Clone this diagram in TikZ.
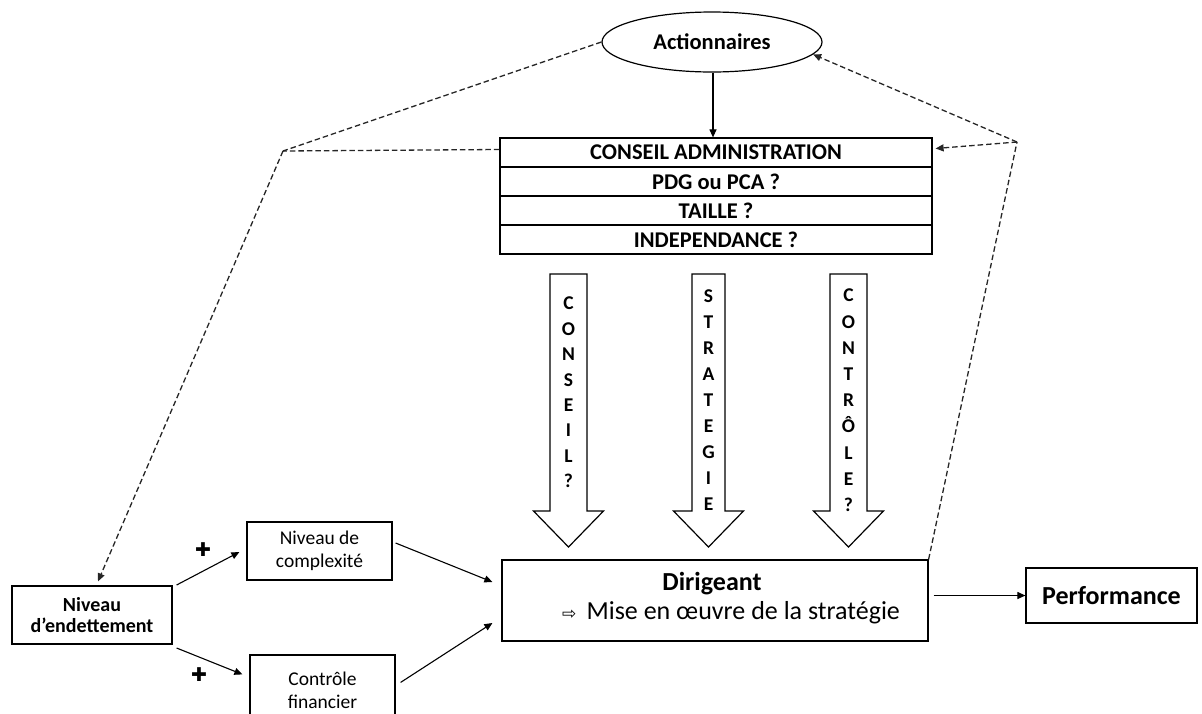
\documentclass[tikz,border=0pt]{standalone}
\usepackage{fontspec}
\setmainfont{Carlito}
\newfontfamily\djv{DejaVu Sans}
\usetikzlibrary{arrows.meta,shapes.geometric,calc}
\begin{document}
\begin{tikzpicture}[x=1pt,y=-1pt,
  box/.style={draw=black,line width=1.2pt,inner sep=0pt,align=center},
  rowbox/.style={box,minimum width=432pt,minimum height=29pt,font=\bfseries\fontsize{22.5}{27}\selectfont},
  conn/.style={line width=1.1pt,-{Triangle[length=8pt,width=7pt]}},
  dsh/.style={draw=black!85,line width=1.3pt,dash pattern=on 5.5pt off 3pt},
  darr/.style={dsh,-{Triangle[length=8pt,width=7pt]}},
  blk/.style={draw=black,line width=1.2pt,fill=white,line join=miter},
  vtxt/.style={anchor=north,inner sep=0pt,align=center,font=\bfseries\fontsize{19.5}{#1}\selectfont},
  plus/.style={font=\djv\bfseries\fontsize{19}{19}\selectfont,inner sep=0pt}
]
\useasboundingbox (0,0) rectangle (1202,713);
\clip (0,0) rectangle (1202,713);

% shareholders
\node[draw,ellipse,line width=1.2pt,minimum width=220pt,minimum height=60pt,inner sep=0pt,
  font=\bfseries\fontsize{22.5}{27}\selectfont] (act) at (712,42) {Actionnaires};

% board
\node[rowbox] (r1) at (716,152.5) {CONSEIL ADMINISTRATION};
\node[rowbox] (r2) at (716,181.5) {PDG ou PCA ?};
\node[rowbox] (r3) at (716,210.5) {TAILLE ?};
\node[rowbox] (r4) at (716,239.5) {INDEPENDANCE ?};

\draw[conn] (act.south -| 713,0) -- (r1.north -| 713,0);

% block arrows
\foreach \cx/\hw in {568.5/18.5,708.5/16.5,848.5/18.5}{
  \draw[blk] (\cx-\hw,274) -- (\cx+\hw,274) -- (\cx+\hw,511) -- (\cx+35,511)
    -- (\cx,547) -- (\cx-35,511) -- (\cx-\hw,511) -- cycle;
}
\node[vtxt=25.4] (t1) at (568.5,297) {C\\O\\N\\S\\E\\I\\L\\?};
\node[vtxt=25.9] (t2) at (708.5,290) {S\\T\\R\\A\\T\\E\\G\\I\\E};
\node[vtxt=26.2] (t3) at (848.5,289) {C\\O\\N\\T\\R\\Ô\\L\\E\\?};

% manager
\node[box,minimum width=426pt,minimum height=81pt] (dir) at (715,600.5) {};
\node[font=\bfseries\fontsize{26}{30}\selectfont,anchor=base,inner sep=0pt] (dirt) at (712,590) {Dirigeant};
\node[font=\fontsize{26}{30}\selectfont,anchor=base,inner sep=0pt] (dirm) at (731,619)
  {{\djv\fontsize{17}{20}\selectfont ⇨}\, Mise en œuvre de la stratégie};

% performance
\node[box,minimum width=171pt,minimum height=55pt,font=\bfseries\fontsize{26}{30}\selectfont] (perf) at (1111.5,595.5) {Performance};
\draw[conn,shorten <=5pt] (dir.east |- perf.west) -- (perf.west);

% debt side
\node[box,minimum width=160pt,minimum height=58pt,font=\bfseries\fontsize{20}{21}\selectfont] (niv) at (92,615) {Niveau\\d’endettement};
\node[box,minimum width=145pt,minimum height=58pt,font=\fontsize{19.5}{23}\selectfont] (cpx) at (319.5,551) {Niveau de\\complexité};
\node[box,minimum width=145pt,minimum height=70pt,font=\fontsize{19.5}{23}\selectfont] (ctl) at (322.5,690) {Contrôle\\financier};

\draw[conn] ($(niv.east)+(4,-30)$) -- ($(cpx.west)+(-7,1)$);
\draw[conn] ($(niv.east)+(4,33)$) -- ($(ctl.north west)+(-7,20)$);
\draw[conn] ($(cpx.east)+(3,-8)$) -- ($(dir.west)+(-9,-18.5)$);
\draw[conn] ($(ctl.north east)+(5,28)$) -- ($(dir.west)+(-9,22.5)$);

\node[plus] (p1) at (203,550) {✚};
\node[plus] (p2) at (199,675) {✚};

% dashed feedback links
\coordinate (L) at (283,151);
\coordinate (R) at (1017,142);
\draw[dsh] (act.west) -- (L);
\draw[dsh] ($(r1.west)+(0,-3)$) -- (L);
\draw[darr] (L) -- ($(niv.north)+(6,-4)$);
\draw[dsh] (dir.north east) -- (R);
\draw[darr] (R) -- ($(r1.east)+(3,-4)$);
\draw[darr] (R) -- (act.-7);
\end{tikzpicture}
\end{document}
